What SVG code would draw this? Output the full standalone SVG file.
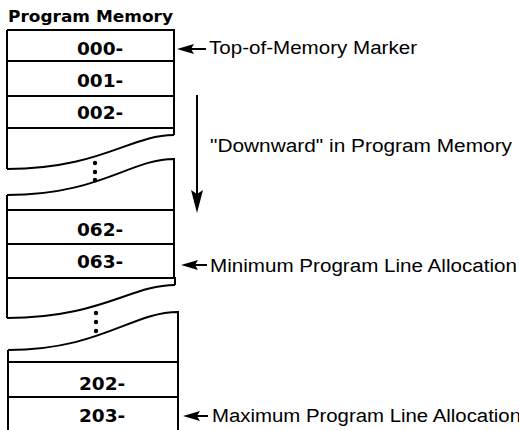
<svg xmlns="http://www.w3.org/2000/svg" xmlns:xlink="http://www.w3.org/1999/xlink" width="519" height="430" viewBox="0 0 519 430">
<style>
.box{fill:none;stroke:#000;stroke-width:2;stroke-linejoin:miter}
.row{font-family:"DejaVu Sans","Liberation Sans",sans-serif;font-weight:bold;font-size:18.5px;fill:#000}
.title{font-family:"DejaVu Sans","Liberation Sans",sans-serif;font-weight:bold;font-size:16.5px;fill:#000}
.lbl{font-family:"Liberation Sans","DejaVu Sans",sans-serif;font-size:18px;fill:#000}
.ln{stroke:#000;stroke-width:2;fill:none}
.dot{fill:#000}
</style>
<defs>
<path id="ahL" d="M0,0 L17,-5 L14,0 L17,5 Z" fill="#000"/>
<path id="ahD" d="M0,0 L-6,-23 L0,-19 L6,-23 Z" fill="#000"/>
</defs>
<rect width="519" height="430" fill="#fff"/>
<text class="title" x="8" y="22" textLength="165" lengthAdjust="spacingAndGlyphs">Program Memory</text>

<g id="top-section">
<path class="box" d="M7,30 H174 V135 M7,30 V169"/>
<line class="box" x1="7" y1="61" x2="174" y2="61"/>
<line class="box" x1="7" y1="96" x2="174" y2="96"/>
<line class="box" x1="7" y1="128" x2="174" y2="128"/>
<path class="box" d="M174,135 C130,135 100,169 7,169"/>
</g>
<g id="row-000"><text class="row" x="77" y="55">000-</text></g>
<g id="row-001"><text class="row" x="77" y="87">001-</text></g>
<g id="row-002"><text class="row" x="77" y="119">002-</text></g>
<g id="gap-1">
<circle class="dot" cx="95" cy="163" r="2.2"/>
<circle class="dot" cx="95" cy="172" r="2.2"/>
<circle class="dot" cx="95" cy="180" r="2.2"/>
</g>

<g id="middle-section">
<path class="box" d="M7,195 C100,195 130,159 174,159 V278 M7,195 V278"/>
<line class="box" x1="7" y1="210" x2="174" y2="210"/>
<line class="box" x1="7" y1="244" x2="174" y2="244"/>
<path class="box" d="M7,278 H175 V285 M7,278 V318"/>
<path class="box" d="M175,285 C131,285 100,318 7,318"/>
</g>
<g id="row-062"><text class="row" x="77" y="236">062-</text></g>
<g id="row-063"><text class="row" x="77" y="268">063-</text></g>
<g id="gap-2">
<circle class="dot" cx="96" cy="313" r="2.2"/>
<circle class="dot" cx="96" cy="322" r="2.2"/>
<circle class="dot" cx="96" cy="331" r="2.2"/>
</g>

<g id="bottom-section">
<path class="box" d="M8,350 C100,350 132,312 178,312 V432 M8,350 V432"/>
<line class="box" x1="8" y1="362" x2="178" y2="362"/>
<line class="box" x1="8" y1="397" x2="178" y2="397"/>
</g>
<g id="row-202"><text class="row" x="79" y="390">202-</text></g>
<g id="row-203"><text class="row" x="79" y="422">203-</text></g>

<g id="connectors">
<line class="ln" x1="190" y1="49" x2="206" y2="49"/>
<use xlink:href="#ahL" x="177" y="49"/>
<line class="ln" x1="197" y1="95" x2="197" y2="195"/>
<use xlink:href="#ahD" x="197" y="213"/>
<line class="ln" x1="194" y1="265" x2="207" y2="265"/>
<use xlink:href="#ahL" x="181" y="265"/>
<line class="ln" x1="196" y1="416" x2="208" y2="416"/>
<use xlink:href="#ahL" x="183" y="416"/>
</g>

<g id="labels">
<text class="lbl" x="209" y="54" textLength="208" lengthAdjust="spacingAndGlyphs">Top-of-Memory Marker</text>
<text class="lbl" x="210" y="152" textLength="302" lengthAdjust="spacingAndGlyphs">"Downward" in Program Memory</text>
<text class="lbl" x="210" y="272" textLength="307" lengthAdjust="spacingAndGlyphs">Minimum Program Line Allocation</text>
<text class="lbl" x="212" y="422" textLength="309" lengthAdjust="spacingAndGlyphs">Maximum Program Line Allocation</text>
</g>
</svg>
